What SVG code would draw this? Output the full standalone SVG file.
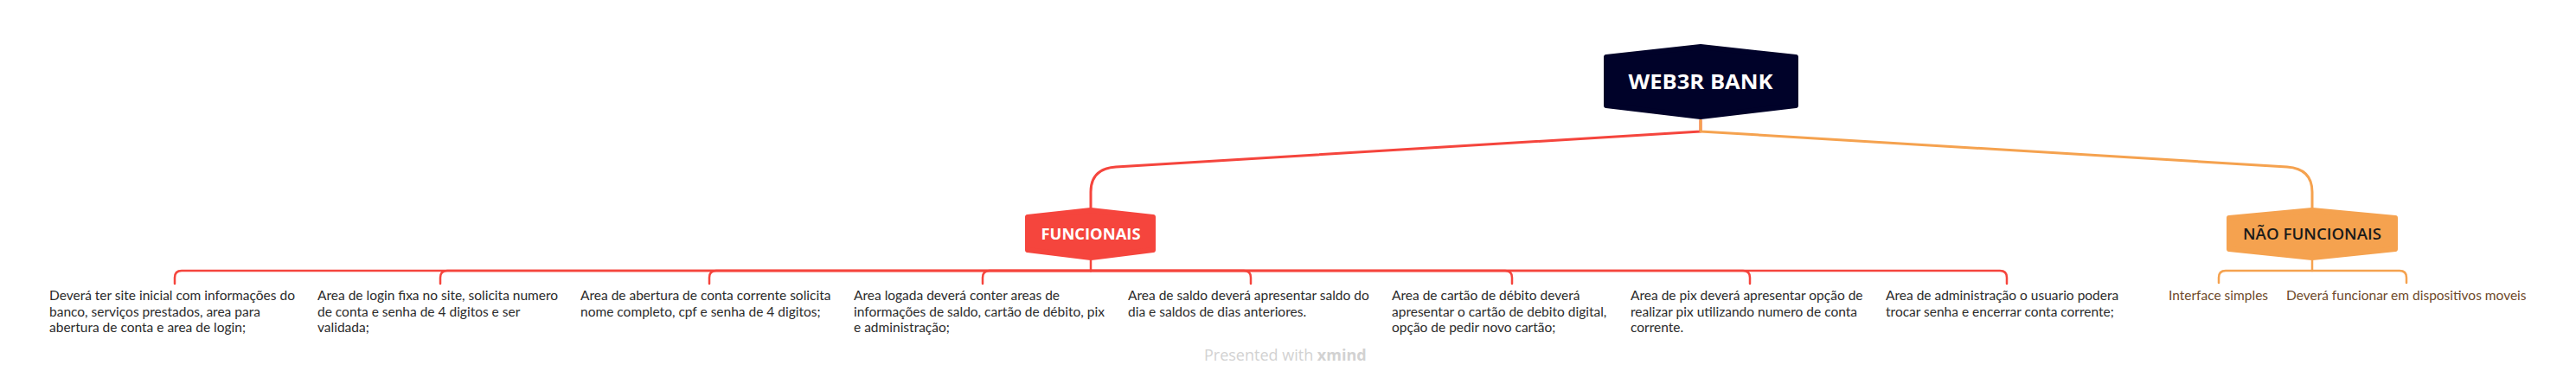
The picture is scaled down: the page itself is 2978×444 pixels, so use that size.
<svg xmlns="http://www.w3.org/2000/svg" width="2978" height="444" viewBox="0 0 2978 444">
<style>
.red{fill:none;stroke:#F5453D;stroke-width:2.5;stroke-linecap:round;stroke-linejoin:round}
.org{fill:none;stroke:#F5A24F;stroke-width:2.5;stroke-linecap:round;stroke-linejoin:round}
.main{stroke-width:3}
.t{font-family:Lato,"Open Sans",sans-serif;font-size:15.5px;fill:#2b2b2b}
.tb{font-family:Lato,"Open Sans",sans-serif;font-size:15.5px;fill:#6E4A2A}
.h{font-family:"Open Sans","Noto Sans",sans-serif;text-anchor:middle}
</style>
<rect width="2978" height="444" fill="#ffffff"/>
<g id="connectors">
<path class="red main" d="M1966,139 V152 L1290,193 Q1261,195 1261,222 V240"/>
<path class="org main" d="M1966,139 V152 L2644,193 Q2673,195 2673,222 V240"/>
<path class="red" d="M1261,301 V313 H210 Q202,313 202,321 V328"/>
<path class="red" d="M1261,313 H517 Q509,313 509,321 V328"/>
<path class="red" d="M1261,313 H828 Q820,313 820,321 V328"/>
<path class="red" d="M1261,313 H1144 Q1136,313 1136,321 V328"/>
<path class="red" d="M1261,313 H1438 Q1446,313 1446,321 V328"/>
<path class="red" d="M1261,313 H1740 Q1748,313 1748,321 V328"/>
<path class="red" d="M1261,313 H2015 Q2023,313 2023,321 V328"/>
<path class="red" d="M1261,313 H2312 Q2320,313 2320,321 V328"/>
<path class="org" d="M2673,301 V313 H2573 Q2565,313 2565,321 V327"/>
<path class="org" d="M2673,313 H2774 Q2782,313 2782,321 V327"/>
</g>
<g id="root">
<polygon points="1966,54 2076,66 2076,122 1966,135 1857,122 1857,66" fill="#000229" stroke="#000229" stroke-width="6" stroke-linejoin="round"/>
<text class="h" x="1966" y="103" font-size="23" font-weight="700" fill="#ffffff" textLength="167" lengthAdjust="spacingAndGlyphs">WEB3R BANK</text>
</g>
<g id="funcionais">
<polygon points="1261,243 1333,251 1333,289 1261,298 1188,289 1188,251" fill="#F5453D" stroke="#F5453D" stroke-width="6" stroke-linejoin="round"/>
<text class="h" x="1261" y="277" font-size="17" font-weight="700" fill="#ffffff" textLength="115" lengthAdjust="spacingAndGlyphs">FUNCIONAIS</text>
</g>
<g id="nao-funcionais">
<polygon points="2673,243 2769,252 2769,288 2673,298 2577,288 2577,252" fill="#F5A24F" stroke="#F5A24F" stroke-width="6" stroke-linejoin="round"/>
<text class="h" x="2673" y="277" font-size="18" font-weight="600" fill="#1b1b1b" textLength="160" lengthAdjust="spacingAndGlyphs">NÃO FUNCIONAIS</text>
</g>
<g id="f1"><text class="t" x="57" y="347">Deverá ter site inicial com informações do<tspan x="57" dy="18.5">banco, serviços prestados, area para</tspan><tspan x="57" dy="18.5">abertura de conta e area de login;</tspan></text></g>
<g id="f2"><text class="t" x="367" y="347">Area de login fixa no site, solicita numero<tspan x="367" dy="18.5">de conta e senha de 4 digitos e ser</tspan><tspan x="367" dy="18.5">validada;</tspan></text></g>
<g id="f3"><text class="t" x="671" y="347">Area de abertura de conta corrente solicita<tspan x="671" dy="18.5">nome completo, cpf e senha de 4 digitos;</tspan></text></g>
<g id="f4"><text class="t" x="987" y="347">Area logada deverá conter areas de<tspan x="987" dy="18.5">informações de saldo, cartão de débito, pix</tspan><tspan x="987" dy="18.5">e administração;</tspan></text></g>
<g id="f5"><text class="t" x="1304" y="347">Area de saldo deverá apresentar saldo do<tspan x="1304" dy="18.5">dia e saldos de dias anteriores.</tspan></text></g>
<g id="f6"><text class="t" x="1609" y="347">Area de cartão de débito deverá<tspan x="1609" dy="18.5">apresentar o cartão de debito digital,</tspan><tspan x="1609" dy="18.5">opção de pedir novo cartão;</tspan></text></g>
<g id="f7"><text class="t" x="1885" y="347">Area de pix deverá apresentar opção de<tspan x="1885" dy="18.5">realizar pix utilizando numero de conta</tspan><tspan x="1885" dy="18.5">corrente.</tspan></text></g>
<g id="f8"><text class="t" x="2180" y="347">Area de administração o usuario podera<tspan x="2180" dy="18.5">trocar senha e encerrar conta corrente;</tspan></text></g>
<g id="n1"><text class="tb" x="2507" y="347">Interface simples</text></g>
<g id="n2"><text class="tb" x="2643" y="347">Deverá funcionar em dispositivos moveis</text></g>
<text x="1392" y="417" font-family="'Open Sans','Noto Sans',sans-serif" font-size="18" fill="#d2d2d2">Presented with <tspan font-weight="700">xmind</tspan></text>
</svg>
